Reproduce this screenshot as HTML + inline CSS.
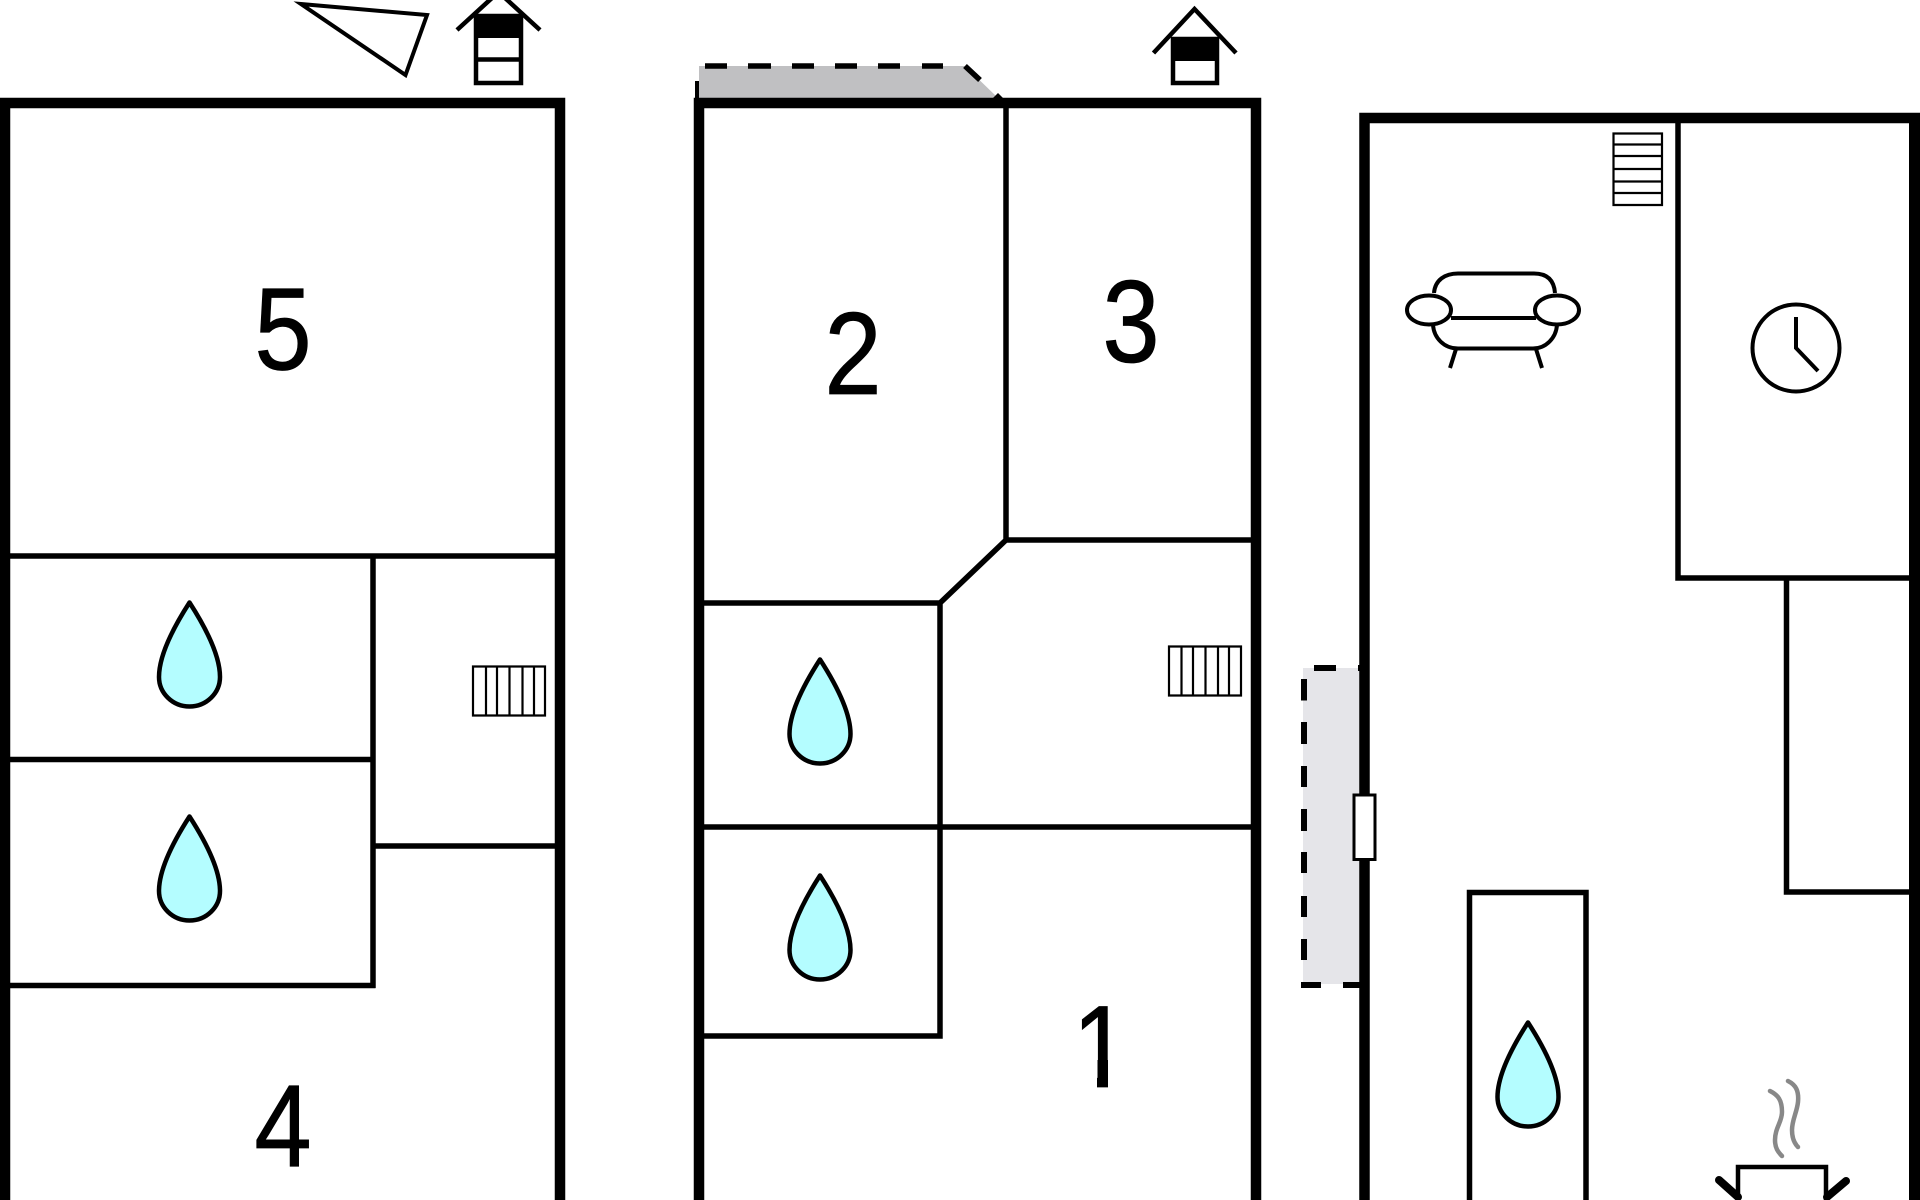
<!DOCTYPE html>
<html><head><meta charset="utf-8"><style>
html,body{margin:0;padding:0;background:#fff;width:1920px;height:1200px;overflow:hidden}
svg{display:block}
text{font-family:"Liberation Sans",Arial,sans-serif;font-size:117px;fill:#000;stroke:#000;stroke-width:.8px;text-anchor:middle}
</style></head><body>
<svg width="1920" height="1200" viewBox="0 0 1920 1200" xmlns="http://www.w3.org/2000/svg">
<defs>
<path id="d" d="M0,2.5 C10,18 30.5,52 30.5,77 C30.5,93 17,106.5 0,106.5 C-17,106.5 -30.5,93 -30.5,77 C-30.5,52 -10,18 0,2.5 Z" fill="#b4fdff" stroke="#000" stroke-width="4.5" stroke-linejoin="round"/>
</defs>
<rect width="1920" height="1200" fill="#fff"/>

<!-- fills -->
<polygon points="699,66 965,66 998,98 699,98" fill="#c0c0c2"/>
<rect x="1303" y="668" width="57" height="316" fill="#e5e5e9"/>

<g fill="none" stroke="#000">
<!-- left building -->
<path d="M5,1200 V103 H560 V1200" stroke-width="10.5"/>
<path d="M10,556 H555 M10,759.5 H373 M10,985.5 H375.5 M373,556 V988 M373,846 H555" stroke-width="5.5"/>
<!-- middle building -->
<path d="M699,1200 V103 H1256 V1200" stroke-width="10.5"/>
<path d="M1006,106 V540 H1251 M1006,540 L940,603 H704 M940,603 V1036 H704 M704,827 H1251" stroke-width="5.5"/>
<!-- right building -->
<path d="M1364.5,1200 V118 H1920" stroke-width="10.5"/>
<path d="M1914.5,118 V1200" stroke-width="11"/>
<path d="M1678,123 V578 H1909 M1786.5,578 V892 H1909" stroke-width="5.5"/>
<path d="M1469.5,1200 V892.5 H1586 V1200" stroke-width="5.5"/>

<!-- compass triangle -->
<polygon points="301,4 427,15 405.5,75" stroke-width="4"/>
<!-- chimney 1 -->
<path d="M476,16 H521 V83 H476 Z M476,59.5 H521" stroke-width="4.5"/>
<path d="M457,30 L498.5,-8 L540,30" stroke-width="4.5"/>
<!-- chimney 2 -->
<path d="M1173,39 H1217 V83 H1173 Z" stroke-width="4.5"/>
<path d="M1153.5,53 L1194.5,9 L1236,53" stroke-width="4.5"/>

<!-- radiators -->
<path d="M473,666.5 H545 V715.5 H473 Z M486,666 V716 M497,666 V716 M509.5,666 V716 M522.5,666 V716 M534,666 V716" stroke-width="2.2"/>
<path d="M1169,646.5 H1241 V695.5 H1169 Z M1181.5,646 V696 M1193,646 V696 M1205.5,646 V696 M1218,646 V696 M1229,646 V696" stroke-width="2.2"/>
<path d="M1613.5,133.5 H1662 V205 H1613.5 Z M1613,144.5 H1662 M1613,156 H1662 M1613,169 H1662 M1613,181.5 H1662 M1613,193 H1662" stroke-width="2.2"/>

<!-- sofa -->
<g stroke-width="4">
<path d="M1434,293 C1435,280 1445,273.5 1458,273.5 H1534 C1547,273.5 1554,280 1555,293"/>
<path d="M1451,318 H1536"/>
<path d="M1433,325 C1434,338 1444,348.5 1458,348.5 H1533 C1546,348.5 1556,338 1557,325"/>
<ellipse cx="1429" cy="310" rx="22" ry="14.5"/>
<ellipse cx="1557" cy="310" rx="22" ry="14.5"/>
<path d="M1456,349 L1450,368 M1536,349 L1542,368"/>
</g>

<!-- clock -->
<circle cx="1796" cy="348" r="43.5" stroke-width="4"/>
<path d="M1796,317 V348 L1818,371" stroke-width="4"/>

<!-- dashes gable -->
<path d="M705,66 H727 M748,66 H771 M792,66 H814 M835,66 H857 M878,66 H900 M922,66 H943 M965,66 L980,80" stroke-width="5.5"/>
<path d="M697,81 V98" stroke-width="4"/>

<!-- dashes terrace -->
<path d="M1304,679 V700.5 M1304,722 V744 M1304,766 V787 M1304,809 V831 M1304,852 V873 M1304,896 V917 M1304,939 V960 M1314,668 H1336 M1358,668 H1360 M1301,985 H1321 M1343,985 H1360" stroke-width="6"/>
</g>
<polygon points="993,98 998,93 1003,98" fill="#000"/>
<rect x="1173" y="37" width="44" height="24" fill="#000"/>
<rect x="474" y="14" width="49" height="24" fill="#000"/>

<!-- door -->
<rect x="1354" y="795" width="21" height="64.5" fill="#fff" stroke="#000" stroke-width="3"/>

<!-- drops -->
<use href="#d" x="189.5" y="600"/>
<use href="#d" x="189.5" y="814"/>
<use href="#d" x="820" y="657"/>
<use href="#d" x="820" y="873"/>
<use href="#d" x="1528" y="1020"/>

<!-- stove -->
<path d="M1738,1200 V1167 H1826 V1200" fill="none" stroke="#000" stroke-width="4.5"/>
<path d="M1719,1180 L1738,1197 M1846,1181 L1827,1197" fill="none" stroke="#000" stroke-width="8" stroke-linecap="round"/>
<path d="M1770,1091 C1778,1095 1782,1100 1782,1112 C1782,1122 1775,1128 1775,1140 C1775,1148 1778,1152 1782,1156" fill="none" stroke="#888" stroke-width="4.5" stroke-linecap="round"/>
<path d="M1788,1081 C1796,1085 1799,1091 1798,1102 C1797,1112 1792,1120 1792,1130 C1792,1138 1794,1143 1798,1147" fill="none" stroke="#888" stroke-width="4.5" stroke-linecap="round"/>

<!-- labels -->
<text transform="translate(283,369.5) scale(.88,1)">5</text>
<text transform="translate(283,1166) scale(.88,1)">4</text>
<text transform="translate(853,394) scale(.88,1)">2</text>
<text transform="translate(1131,362) scale(.88,1)">3</text>
<text transform="translate(1101,1087) scale(.88,1)">1</text>
<rect x="1060" y="1075" width="37" height="16" fill="#fff"/>
<rect x="1108" y="1075" width="30" height="16" fill="#fff"/>
<rect x="1097.5" y="1060" width="10.5" height="27" fill="#000"/>
</svg>
</body></html>
